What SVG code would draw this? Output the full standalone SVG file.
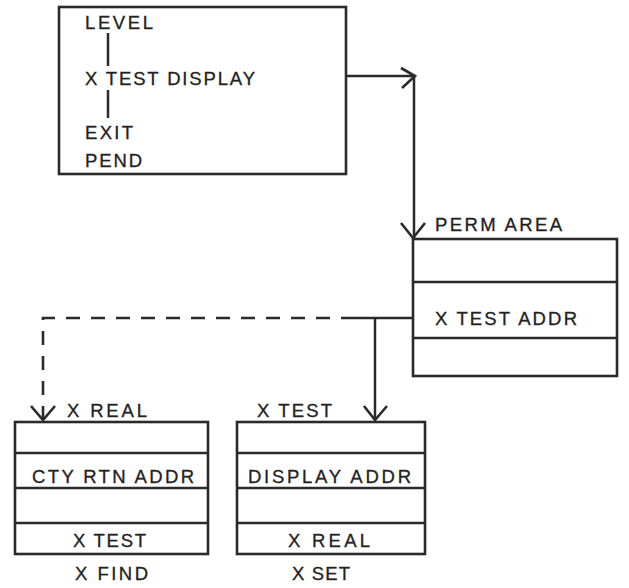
<svg xmlns="http://www.w3.org/2000/svg" width="629" height="588" viewBox="0 0 629 588">
<style>
.box{fill:none;stroke:#2a2a2a;stroke-width:2.6}
.ln{fill:none;stroke:#2a2a2a;stroke-width:2.5}
.dash{fill:none;stroke:#2a2a2a;stroke-width:2.6;stroke-dasharray:14 11}
.ah{fill:none;stroke:#2a2a2a;stroke-width:2.6;stroke-linejoin:miter}
text{font-family:"Liberation Sans",Arial,sans-serif;font-size:18.5px;fill:#222;stroke:#222;stroke-width:0.3}
</style>
<rect width="629" height="588" fill="#ffffff"/>
<g id="program">
<rect class="box" x="59" y="7" width="287" height="167"/>
<text x="85" y="29" textLength="68" lengthAdjust="spacing">LEVEL</text>
<line class="ln" x1="108" y1="33" x2="108" y2="66"/>
<text x="85" y="85" textLength="170" lengthAdjust="spacing">X TEST DISPLAY</text>
<line class="ln" x1="108" y1="90" x2="108" y2="118"/>
<text x="85" y="139" textLength="48" lengthAdjust="spacing">EXIT</text>
<text x="85" y="167" textLength="57" lengthAdjust="spacing">PEND</text>
</g>
<g id="perm-area">
<text x="435" y="231" textLength="127" lengthAdjust="spacing">PERM AREA</text>
<rect class="box" x="413" y="239" width="204" height="137"/>
<line class="ln" x1="413" y1="282" x2="617" y2="282"/>
<line class="ln" x1="413" y1="338" x2="617" y2="338"/>
<text x="435" y="325" textLength="142" lengthAdjust="spacing">X TEST ADDR</text>
</g>
<g id="x-find">
<text x="67" y="417" textLength="80" lengthAdjust="spacing">X REAL</text>
<rect class="box" x="15" y="422" width="193" height="132"/>
<line class="ln" x1="15" y1="453" x2="208" y2="453"/>
<line class="ln" x1="15" y1="488" x2="208" y2="488"/>
<line class="ln" x1="15" y1="523" x2="208" y2="523"/>
<text x="32" y="483" textLength="162" lengthAdjust="spacing">CTY RTN ADDR</text>
<text x="73" y="547" textLength="73" lengthAdjust="spacing">X TEST</text>
<text x="75" y="580" textLength="73" lengthAdjust="spacing">X FIND</text>
</g>
<g id="x-set">
<text x="257" y="417" textLength="75" lengthAdjust="spacing">X TEST</text>
<rect class="box" x="237" y="422" width="188" height="132"/>
<line class="ln" x1="237" y1="453" x2="425" y2="453"/>
<line class="ln" x1="237" y1="488" x2="425" y2="488"/>
<line class="ln" x1="237" y1="523" x2="425" y2="523"/>
<text x="248" y="483" textLength="163" lengthAdjust="spacing">DISPLAY ADDR</text>
<text x="288" y="547" textLength="82" lengthAdjust="spacing">X REAL</text>
<text x="292" y="580" textLength="58" lengthAdjust="spacing">X SET</text>
</g>
<g id="connectors">
<polyline class="ln" points="346,76 414,76 414,239"/>
<polyline class="ah" points="401,68 415,76 402,88"/>
<polyline class="ah" points="401,223 413,238 425,223"/>
<line class="ln" x1="413" y1="318" x2="355" y2="318"/>
<line class="ln" x1="375" y1="318" x2="375" y2="420"/>
<polyline class="ah" points="364,406 375,420 387,406"/>
<polyline class="dash" points="355,318 43,318 43,418"/>
<polyline class="ah" points="31,406 43,420 55,406"/>
</g>
</svg>
